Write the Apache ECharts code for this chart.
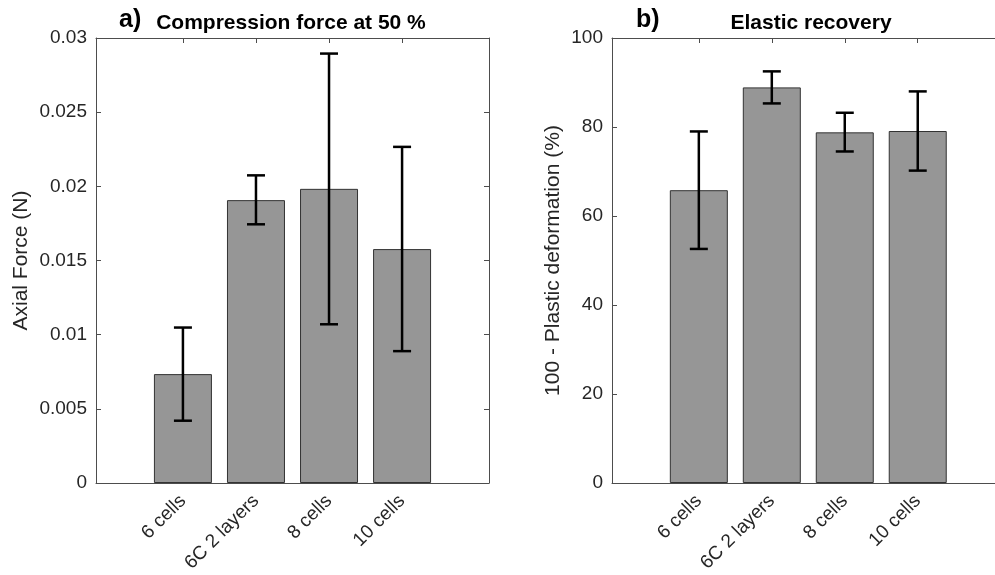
<!DOCTYPE html>
<html>
<head>
<meta charset="utf-8">
<script src="https://cdn.jsdelivr.net/npm/echarts@6/dist/echarts.min.js"></script>
<style>
  html, body { margin: 0; padding: 0; background: #fff; overflow: hidden; }
  #chart { width: 995px; height: 575px; }
</style>
</head>
<body>
<div id="chart"></div>
<script>
// Sample groups shown on both panels
const categories = ['6 cells', '6C 2 layers', '8 cells', '10 cells'];

// a) Compression force at 50 % (N): mean with error-bar bounds
const forceMean = [0.00734, 0.01907, 0.01983, 0.01577];
const forceLow  = [0.00420, 0.01744, 0.01070, 0.00889];
const forceHigh = [0.01048, 0.02074, 0.02895, 0.02266];

// b) Elastic recovery, 100 - plastic deformation (%)
const recoveryMean = [65.8, 88.9, 78.8, 79.1];
const recoveryLow  = [52.6, 85.3, 74.5, 70.2];
const recoveryHigh = [79.0, 92.5, 83.2, 88.0];

// Category positions along the numeric x axis
const positions = categories.map((c, i) => i + 1);

const FONT = 'Liberation Sans, Arial, sans-serif';
const TEXT = '#262626';
const AXIS = '#4d4d4d';
const X_MIN = -0.19;
const X_MAX_A = 5.19;
// Panel b) keeps the same scale but its frame runs on past the page edge.
const X_MAX_B = 5.977;

function frameX(gridIndex, top, max) {
  return {
    type: 'value', gridIndex, position: top ? 'top' : 'bottom',
    min: X_MIN, max,
    axisLine: { show: true, onZero: false, lineStyle: { color: AXIS, width: 1 } },
    axisTick: { show: true, inside: true, length: 5, customValues: positions, lineStyle: { color: AXIS } },
    axisLabel: top ? { show: false } : {
      show: true, customValues: positions, rotate: 45, margin: 15,
      color: TEXT, fontSize: 19, fontFamily: FONT,
      formatter: v => categories[Math.round(v) - 1] || ''
    },
    splitLine: { show: false }
  };
}

function frameY(gridIndex, right, max, interval, name, nameGap) {
  return {
    type: 'value', gridIndex, position: right ? 'right' : 'left',
    min: 0, max, interval,
    name: right ? '' : name, nameLocation: 'middle', nameGap,
    nameTextStyle: { color: TEXT, fontSize: 21, fontFamily: FONT },
    axisLine: { show: true, onZero: false, lineStyle: { color: AXIS, width: 1 } },
    axisTick: { show: true, inside: true, length: 5, lineStyle: { color: AXIS } },
    axisLabel: right ? { show: false } : { show: true, margin: 9, color: TEXT, fontSize: 19, fontFamily: FONT },
    splitLine: { show: false }
  };
}

function barSeries(axisIndex, means) {
  return {
    type: 'bar', xAxisIndex: axisIndex, yAxisIndex: axisIndex,
    data: positions.map((p, i) => [p, means[i]]),
    barWidth: 58,
    itemStyle: { color: '#969696', borderColor: '#333333', borderWidth: 1 },
    silent: true, animation: false
  };
}

function errorSeries(axisIndex, low, high) {
  return {
    type: 'custom', xAxisIndex: axisIndex, yAxisIndex: axisIndex,
    data: positions.map((p, i) => [p, low[i], high[i]]),
    encode: { x: 0, y: [1, 2] },
    renderItem: function (params, api) {
      const x = api.value(0);
      const pLo = api.coord([x, api.value(1)]);
      const pHi = api.coord([x, api.value(2)]);
      const w = 9;
      const style = { stroke: '#000', lineWidth: 2.5 };
      return {
        type: 'group',
        children: [
          { type: 'line', shape: { x1: pHi[0], y1: pHi[1], x2: pLo[0], y2: pLo[1] }, style },
          { type: 'line', shape: { x1: pHi[0] - w, y1: pHi[1], x2: pHi[0] + w, y2: pHi[1] }, style },
          { type: 'line', shape: { x1: pLo[0] - w, y1: pLo[1], x2: pLo[0] + w, y2: pLo[1] }, style }
        ]
      };
    },
    z: 10, silent: true, animation: false
  };
}

const chart = echarts.init(document.getElementById('chart'), null, { renderer: 'canvas' });
chart.setOption({
  backgroundColor: '#fff',
  animation: false,
  title: [
    { text: 'a)', left: 114, top: 3, textStyle: { fontSize: 25, fontWeight: 'bold', color: '#000', fontFamily: FONT } },
    { text: 'Compression force at 50 %', left: 286, textAlign: 'center', top: 8, textStyle: { fontSize: 21, fontWeight: 'bold', color: '#000', fontFamily: FONT } },
    { text: 'b)', left: 631, top: 3, textStyle: { fontSize: 25, fontWeight: 'bold', color: '#000', fontFamily: FONT } },
    { text: 'Elastic recovery', left: 806, textAlign: 'center', top: 8, textStyle: { fontSize: 21, fontWeight: 'bold', color: '#000', fontFamily: FONT } }
  ],
  grid: [
    { left: 96, top: 38, width: 393, height: 445, containLabel: false, outerBoundsMode: 'none' },
    { left: 612, top: 38, width: 450, height: 445, containLabel: false, outerBoundsMode: 'none' }
  ],
  xAxis: [frameX(0, false, X_MAX_A), frameX(0, true, X_MAX_A), frameX(1, false, X_MAX_B), frameX(1, true, X_MAX_B)],
  yAxis: [
    frameY(0, false, 0.03, 0.005, 'Axial Force (N)', 64),
    frameY(0, true, 0.03, 0.005),
    frameY(1, false, 100, 20, '100 - Plastic deformation (%)', 48)
  ],
  series: [
    barSeries(0, forceMean),
    errorSeries(0, forceLow, forceHigh),
    barSeries(2, recoveryMean),
    errorSeries(2, recoveryLow, recoveryHigh)
  ]
});
</script>
</body>
</html>
